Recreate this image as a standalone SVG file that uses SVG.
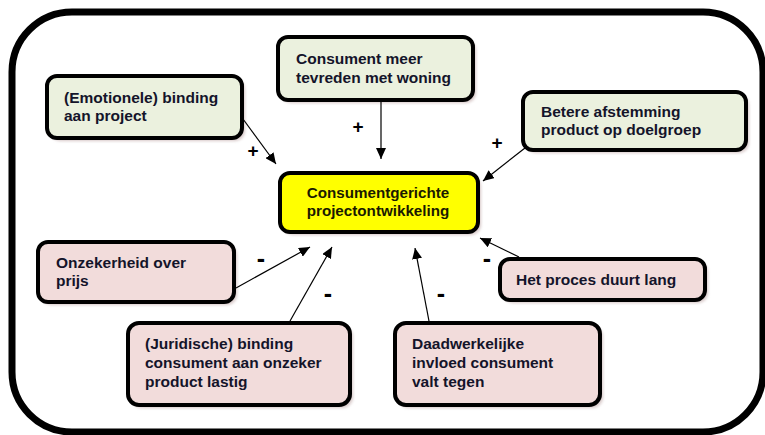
<svg xmlns="http://www.w3.org/2000/svg" width="765" height="435" viewBox="0 0 765 435">
  <defs>
    <style>
      .frame { fill: #ffffff; stroke: #000000; stroke-width: 7; }
      .box { stroke: #000000; stroke-width: 4; }
      .pos { fill: #ebf1de; }
      .neg { fill: #f2dcdb; }
      .core { fill: #ffff00; }
      .shadow { fill: #b59a9a; opacity: 0.55; filter: url(#soft); }
      .label { font-family: "Liberation Sans", Arial, sans-serif; font-size: 15.5px; font-weight: bold; fill: #14142a; }
      .core-label { font-family: "Liberation Sans", Arial, sans-serif; font-size: 15.2px; font-weight: bold; fill: #1a1a00; text-anchor: middle; }
      .sign { font-family: "Liberation Sans", Arial, sans-serif; font-size: 19px; font-weight: bold; fill: #000000; text-anchor: middle; }
      .minus { font-size: 25px; }
      .link { stroke: #000000; stroke-width: 1.2; fill: none; marker-end: url(#arrow); }
    </style>
    <filter id="soft" x="-10%" y="-10%" width="120%" height="130%">
      <feGaussianBlur stdDeviation="1.5"/>
    </filter>
    <marker id="arrow" markerUnits="userSpaceOnUse" markerWidth="12" markerHeight="10" refX="11" refY="5" orient="auto">
      <path d="M0,0 L11,5 L0,10 Z" fill="#000000"/>
    </marker>
  </defs>

  <!-- outer frame -->
  <rect class="frame" x="12" y="12" width="751" height="420" rx="60" ry="60"/>

  <!-- positive influences -->
  <g id="node-emotionele-binding">
    <rect class="shadow" x="50" y="79" width="195" height="62" rx="10"/>
    <rect class="box pos" x="47" y="76" width="195" height="62" rx="10"/>
    <text class="label" x="64" y="103">(Emotionele) binding</text>
    <text class="label" x="64" y="121">aan project</text>
  </g>

  <g id="node-tevreden">
    <rect class="shadow" x="281" y="40" width="195" height="63" rx="10"/>
    <rect class="box pos" x="278" y="37" width="195" height="63" rx="10"/>
    <text class="label" x="296" y="64">Consument meer</text>
    <text class="label" x="296" y="83">tevreden met woning</text>
  </g>

  <g id="node-afstemming">
    <rect class="shadow" x="526" y="95" width="223" height="58" rx="10"/>
    <rect class="box pos" x="523" y="92" width="223" height="58" rx="10"/>
    <text class="label" x="541" y="117">Betere afstemming</text>
    <text class="label" x="541" y="135">product op doelgroep</text>
  </g>

  <!-- central concept -->
  <g id="node-consumentgericht">
    <rect class="shadow" x="283" y="176" width="198" height="59" rx="10"/>
    <rect class="box core" x="280" y="173" width="198" height="59" rx="10"/>
    <text class="core-label" x="378" y="198">Consumentgerichte</text>
    <text class="core-label" x="378" y="216">projectontwikkeling</text>
  </g>

  <!-- negative influences -->
  <g id="node-onzekerheid-prijs">
    <rect class="shadow" x="41" y="245" width="196" height="60" rx="10"/>
    <rect class="box neg" x="38" y="242" width="196" height="60" rx="10"/>
    <text class="label" x="56" y="268">Onzekerheid over</text>
    <text class="label" x="56" y="286">prijs</text>
  </g>

  <g id="node-proces-lang">
    <rect class="shadow" x="503" y="262" width="205" height="41" rx="10"/>
    <rect class="box neg" x="500" y="259" width="205" height="41" rx="10"/>
    <text class="label" x="516" y="285">Het proces  duurt lang</text>
  </g>

  <g id="node-juridische-binding">
    <rect class="shadow" x="131" y="326" width="222" height="82" rx="11"/>
    <rect class="box neg" x="128" y="323" width="222" height="82" rx="11"/>
    <text class="label" x="145" y="349">(Juridische) binding</text>
    <text class="label" x="145" y="368">consument aan onzeker</text>
    <text class="label" x="145" y="387">product lastig</text>
  </g>

  <g id="node-invloed-tegen">
    <rect class="shadow" x="398" y="326" width="205" height="82" rx="11"/>
    <rect class="box neg" x="395" y="323" width="205" height="82" rx="11"/>
    <text class="label" x="412" y="349">Daadwerkelijke</text>
    <text class="label" x="412" y="368">invloed consument</text>
    <text class="label" x="412" y="387">valt tegen</text>
  </g>

  <!-- influence arrows -->
  <g id="connectors">
    <line class="link" x1="243" y1="119" x2="276" y2="164"/>
    <line class="link" x1="381" y1="100" x2="381" y2="159"/>
    <line class="link" x1="525" y1="148" x2="483" y2="181"/>
    <line class="link" x1="519" y1="257" x2="480" y2="238"/>
    <line class="link" x1="236" y1="288" x2="310" y2="247"/>
    <line class="link" x1="290" y1="321" x2="332" y2="247"/>
    <line class="link" x1="429" y1="321" x2="415" y2="248"/>
  </g>

  <!-- polarity signs -->
  <g id="signs">
    <text class="sign" x="253" y="157">+</text>
    <text class="sign" x="358" y="133">+</text>
    <text class="sign" x="497" y="149">+</text>
    <text class="sign minus" x="261" y="267">-</text>
    <text class="sign minus" x="328" y="302">-</text>
    <text class="sign minus" x="441" y="302">-</text>
    <text class="sign minus" x="487" y="267">-</text>
  </g>
</svg>
